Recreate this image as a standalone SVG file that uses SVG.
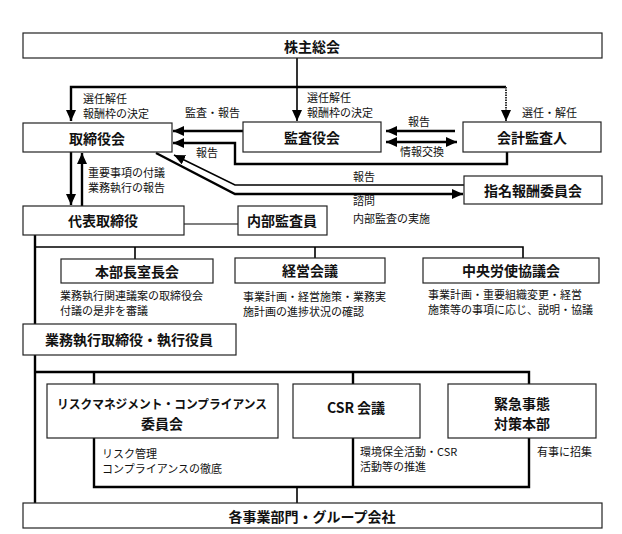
<svg xmlns="http://www.w3.org/2000/svg" width="622" height="534" viewBox="0 0 622 534">
<style>
.box{fill:#fff;stroke:#222;stroke-width:1.2}
.bt{font-family:"Noto Sans CJK JP","Noto Sans CJK SC",sans-serif;font-size:14px;font-weight:bold;fill:#111;text-anchor:middle;dominant-baseline:central}
.lb{font-family:"Noto Sans CJK JP","Noto Sans CJK SC",sans-serif;font-size:11px;fill:#111}
.ds{font-family:"Noto Sans CJK JP","Noto Sans CJK SC",sans-serif;font-size:11px;fill:#111}
.th{fill:none;stroke:#000;stroke-width:2.4}
.md{fill:none;stroke:#000;stroke-width:1.6}
.tn{fill:none;stroke:#000;stroke-width:1.2}
</style>
<defs>
<marker id="ah" markerUnits="userSpaceOnUse" markerWidth="12" markerHeight="10" refX="11" refY="5" orient="auto-start-reverse">
<path d="M0,0 L11,5 L0,10 Z" fill="#000"/>
</marker>
</defs>
<rect width="622" height="534" fill="#fff"/>
<g id="connectors">
<line class="md" x1="297" y1="58" x2="297" y2="121" marker-end="url(#ah)"/>
<path class="th" d="M506,87 H71 V121" marker-end="url(#ah)"/>
<path d="M506,87 V121" fill="none" stroke="#333" stroke-width="2" stroke-dasharray="1.5 1" marker-end="url(#ah)"/>
<line class="th" x1="243" y1="131" x2="173" y2="131" marker-end="url(#ah)"/>
<path class="th" d="M507,152 V164 H235 V143 H173" marker-end="url(#ah)"/>
<line class="th" x1="455" y1="131" x2="386" y2="131" marker-end="url(#ah)"/>
<line class="th" x1="386" y1="142" x2="457" y2="142" marker-start="url(#ah)" marker-end="url(#ah)"/>
<path class="md" d="M464,185 H235 L174,155" marker-end="url(#ah)"/>
<path class="th" d="M156,153 L235,194 H463" marker-end="url(#ah)"/>
<line class="th" x1="71" y1="152" x2="71" y2="205" marker-end="url(#ah)"/>
<line class="th" x1="82" y1="206" x2="82" y2="153" marker-end="url(#ah)"/>
<line class="tn" x1="184" y1="224" x2="238" y2="224"/>
<line class="th" x1="35" y1="235" x2="35" y2="503"/>
<path class="md" d="M35,247 H523 V258 M135,247 V259 M315,247 V258"/>
<path class="th" d="M35,372 H529 V384 M94,372 V384 M353,372 V384"/>
<path class="th" d="M94,438 V487 H529 V438 M353,438 V487"/>
<line class="md" x1="297" y1="487" x2="297" y2="503"/>
</g>
<g id="n-kabunushi"><rect class="box" x="23" y="33" width="579" height="25"/><text class="bt" x="312" y="46">株主総会</text></g>
<g id="n-torishimariyakukai"><rect class="box" x="23" y="123" width="149" height="29"/><text class="bt" x="97" y="138">取締役会</text></g>
<g id="n-kansayakukai"><rect class="box" x="243" y="122" width="138" height="30"/><text class="bt" x="312" y="137">監査役会</text></g>
<g id="n-kaikei"><rect class="box" x="463" y="122" width="138" height="30"/><text class="bt" x="532" y="137">会計監査人</text></g>
<g id="n-shimei"><rect class="box" x="464" y="176" width="138" height="28"/><text class="bt" x="533" y="190">指名報酬委員会</text></g>
<g id="n-daihyo"><rect class="box" x="23" y="206" width="161" height="29"/><text class="bt" x="103" y="220">代表取締役</text></g>
<g id="n-naibu"><rect class="box" x="238" y="206" width="89" height="29"/><text class="bt" x="282" y="220">内部監査員</text></g>
<g id="n-honbucho"><rect class="box" x="61" y="259" width="152" height="24"/><text class="bt" x="137" y="271">本部長室長会</text></g>
<g id="n-keiei"><rect class="box" x="235" y="258" width="150" height="25"/><text class="bt" x="310" y="270">経営会議</text></g>
<g id="n-chuo"><rect class="box" x="423" y="258" width="176" height="25"/><text class="bt" x="511" y="270">中央労使協議会</text></g>
<g id="n-gyomu"><rect class="box" x="23" y="324" width="213" height="31"/><text class="bt" x="129" y="339">業務執行取締役・執行役員</text></g>
<g id="n-risk"><rect class="box" x="47" y="384" width="231" height="54"/><text class="bt" x="162" y="403" style="font-size:12.5px" textLength="210" lengthAdjust="spacingAndGlyphs">リスクマネジメント・コンプライアンス</text><text class="bt" x="162" y="423">委員会</text></g>
<g id="n-csr"><rect class="box" x="293" y="384" width="127" height="54"/><text class="bt" x="356" y="407">CSR 会議</text></g>
<g id="n-kinkyu"><rect class="box" x="448" y="384" width="148" height="54"/><text class="bt" x="522" y="403">緊急事態</text><text class="bt" x="522" y="423">対策本部</text></g>
<g id="n-kakujigyo"><rect class="box" x="23" y="503" width="579" height="25"/><text class="bt" x="312" y="516">各事業部門・グループ会社</text></g>
<g id="labels">
<text class="lb" x="83" y="103">選任解任</text>
<text class="lb" x="83" y="118">報酬枠の決定</text>
<text class="lb" x="185" y="117">監査・報告</text>
<text class="lb" x="307" y="102">選任解任</text>
<text class="lb" x="307" y="117">報酬枠の決定</text>
<text class="lb" x="522" y="117">選任・解任</text>
<text class="lb" x="408" y="126">報告</text>
<text class="lb" x="400" y="156">情報交換</text>
<text class="lb" x="196" y="157">報告</text>
<text class="lb" x="353" y="181">報告</text>
<text class="lb" x="353" y="205">諮問</text>
<text class="lb" x="88" y="177">重要事項の付議</text>
<text class="lb" x="88" y="192">業務執行の報告</text>
<text class="lb" x="353" y="223">内部監査の実施</text>
<text class="ds" x="60" y="300">業務執行関連議案の取締役会</text>
<text class="ds" x="60" y="315">付議の是非を審議</text>
<text class="ds" x="243" y="301">事業計画・経営施策・業務実</text>
<text class="ds" x="243" y="316">施計画の進捗状況の確認</text>
<text class="ds" x="428" y="299">事業計画・重要組織変更・経営</text>
<text class="ds" x="428" y="314">施策等の事項に応じ、説明・協議</text>
<text class="lb" x="102" y="458">リスク管理</text>
<text class="lb" x="102" y="473">コンプライアンスの徹底</text>
<text class="lb" x="360" y="456">環境保全活動・CSR</text>
<text class="lb" x="360" y="471">活動等の推進</text>
<text class="lb" x="537" y="456">有事に招集</text>
</g>
</svg>
